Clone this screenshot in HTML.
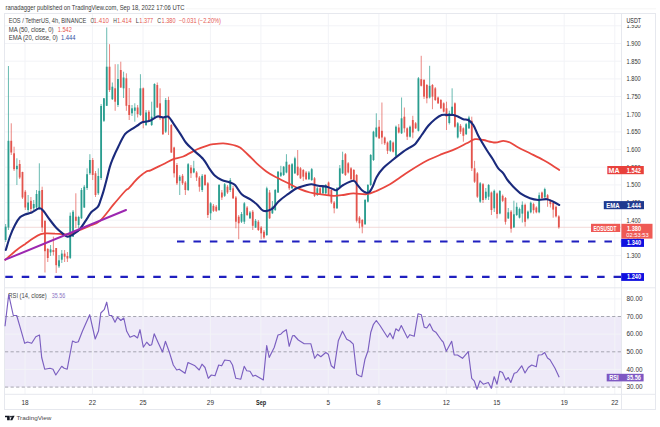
<!DOCTYPE html><html><head><meta charset="utf-8"><style>html,body{margin:0;padding:0;background:#fff;width:660px;height:427px;overflow:hidden}svg{display:block}text{font-family:"Liberation Sans",sans-serif}</style></head><body>
<svg width="660" height="427" viewBox="0 0 660 427">
<text x="5.5" y="9.8" font-size="6.6" fill="#3a3a3a" textLength="179" lengthAdjust="spacingAndGlyphs">ranadagger published on TradingView.com, Sep 18, 2022 17:06 UTC</text>
<rect x="4.5" y="13.5" width="651" height="396" fill="none" stroke="#e6e8ee" stroke-width="1"/>
<rect x="5" y="316.5" width="616" height="70.6" fill="#eeeaf8"/>
<g stroke="#f2f3f7" stroke-opacity="1" stroke-width="1"><line x1="5" y1="25.8" x2="621" y2="25.8"/><line x1="5" y1="43.5" x2="621" y2="43.5"/><line x1="5" y1="61.2" x2="621" y2="61.2"/><line x1="5" y1="78.9" x2="621" y2="78.9"/><line x1="5" y1="96.5" x2="621" y2="96.5"/><line x1="5" y1="114.2" x2="621" y2="114.2"/><line x1="5" y1="131.9" x2="621" y2="131.9"/><line x1="5" y1="149.6" x2="621" y2="149.6"/><line x1="5" y1="167.2" x2="621" y2="167.2"/><line x1="5" y1="184.9" x2="621" y2="184.9"/><line x1="5" y1="202.6" x2="621" y2="202.6"/><line x1="5" y1="220.2" x2="621" y2="220.2"/><line x1="5" y1="237.9" x2="621" y2="237.9"/><line x1="5" y1="255.6" x2="621" y2="255.6"/><line x1="5" y1="298.9" x2="621" y2="298.9"/><line x1="5" y1="334.1" x2="621" y2="334.1"/><line x1="5" y1="369.4" x2="621" y2="369.4"/><line x1="25.0" y1="14" x2="25.0" y2="394"/><line x1="92.4" y1="14" x2="92.4" y2="394"/><line x1="143.0" y1="14" x2="143.0" y2="394"/><line x1="210.4" y1="14" x2="210.4" y2="394"/><line x1="260.9" y1="14" x2="260.9" y2="394"/><line x1="328.3" y1="14" x2="328.3" y2="394"/><line x1="378.9" y1="14" x2="378.9" y2="394"/><line x1="446.3" y1="14" x2="446.3" y2="394"/><line x1="496.8" y1="14" x2="496.8" y2="394"/><line x1="564.2" y1="14" x2="564.2" y2="394"/><line x1="614.8" y1="14" x2="614.8" y2="394"/></g>
<line x1="5" y1="316.5" x2="621" y2="316.5" stroke="#9d9da8" stroke-width="0.9" stroke-dasharray="3.2,2.37"/>
<line x1="5" y1="351.8" x2="621" y2="351.8" stroke="#9d9da8" stroke-width="0.9" stroke-dasharray="3.2,2.37"/>
<line x1="5" y1="387.1" x2="621" y2="387.1" stroke="#9d9da8" stroke-width="0.9" stroke-dasharray="3.2,2.37"/>
<line x1="5" y1="287.8" x2="655" y2="287.8" stroke="#e6e8ee" stroke-width="1"/>
<line x1="5" y1="394.3" x2="655" y2="394.3" stroke="#e6e8ee" stroke-width="1"/>
<line x1="621.5" y1="14" x2="621.5" y2="409.5" stroke="#e6e8ee" stroke-width="1"/>
<text x="626.5" y="28.1" font-size="6.4" fill="#333" textLength="14.2" lengthAdjust="spacingAndGlyphs">1.950</text><text x="626.5" y="45.8" font-size="6.4" fill="#333" textLength="14.2" lengthAdjust="spacingAndGlyphs">1.900</text><text x="626.5" y="63.5" font-size="6.4" fill="#333" textLength="14.2" lengthAdjust="spacingAndGlyphs">1.850</text><text x="626.5" y="81.2" font-size="6.4" fill="#333" textLength="14.2" lengthAdjust="spacingAndGlyphs">1.800</text><text x="626.5" y="98.8" font-size="6.4" fill="#333" textLength="14.2" lengthAdjust="spacingAndGlyphs">1.750</text><text x="626.5" y="116.5" font-size="6.4" fill="#333" textLength="14.2" lengthAdjust="spacingAndGlyphs">1.700</text><text x="626.5" y="134.2" font-size="6.4" fill="#333" textLength="14.2" lengthAdjust="spacingAndGlyphs">1.650</text><text x="626.5" y="151.9" font-size="6.4" fill="#333" textLength="14.2" lengthAdjust="spacingAndGlyphs">1.600</text><text x="626.5" y="169.5" font-size="6.4" fill="#333" textLength="14.2" lengthAdjust="spacingAndGlyphs">1.550</text><text x="626.5" y="187.2" font-size="6.4" fill="#333" textLength="14.2" lengthAdjust="spacingAndGlyphs">1.500</text><text x="626.5" y="204.9" font-size="6.4" fill="#333" textLength="14.2" lengthAdjust="spacingAndGlyphs">1.450</text><text x="626.5" y="222.6" font-size="6.4" fill="#333" textLength="14.2" lengthAdjust="spacingAndGlyphs">1.400</text><text x="626.5" y="240.2" font-size="6.4" fill="#333" textLength="14.2" lengthAdjust="spacingAndGlyphs">1.350</text><text x="626.5" y="257.9" font-size="6.4" fill="#333" textLength="14.2" lengthAdjust="spacingAndGlyphs">1.300</text>
<text x="626.5" y="301.2" font-size="6.4" fill="#333" textLength="16" lengthAdjust="spacingAndGlyphs">80.00</text>
<text x="626.5" y="318.8" font-size="6.4" fill="#333" textLength="16" lengthAdjust="spacingAndGlyphs">70.00</text>
<text x="626.5" y="336.4" font-size="6.4" fill="#333" textLength="16" lengthAdjust="spacingAndGlyphs">60.00</text>
<text x="626.5" y="354.1" font-size="6.4" fill="#333" textLength="16" lengthAdjust="spacingAndGlyphs">50.00</text>
<text x="626.5" y="371.8" font-size="6.4" fill="#333" textLength="16" lengthAdjust="spacingAndGlyphs">40.00</text>
<text x="626.5" y="389.4" font-size="6.4" fill="#333" textLength="16" lengthAdjust="spacingAndGlyphs">30.00</text>
<text x="25.0" y="404.8" font-size="6.4" fill="#333" text-anchor="middle">18</text>
<text x="92.4" y="404.8" font-size="6.4" fill="#333" text-anchor="middle">22</text>
<text x="143.0" y="404.8" font-size="6.4" fill="#333" text-anchor="middle">25</text>
<text x="210.4" y="404.8" font-size="6.4" fill="#333" text-anchor="middle">29</text>
<text x="256" y="404.8" font-size="6.4" fill="#222" font-weight="bold" textLength="10.2" lengthAdjust="spacingAndGlyphs">Sep</text>
<text x="328.3" y="404.8" font-size="6.4" fill="#333" text-anchor="middle">5</text>
<text x="378.9" y="404.8" font-size="6.4" fill="#333" text-anchor="middle">8</text>
<text x="446.3" y="404.8" font-size="6.4" fill="#333" text-anchor="middle">12</text>
<text x="496.8" y="404.8" font-size="6.4" fill="#333" text-anchor="middle">15</text>
<text x="564.2" y="404.8" font-size="6.4" fill="#333" text-anchor="middle">19</text>
<text x="614.8" y="404.8" font-size="6.4" fill="#333" text-anchor="middle">22</text>
<line x1="186" y1="8.8" x2="656" y2="8.8" stroke="#f3f3f3" stroke-width="0.8"/>
<rect x="622" y="14" width="33" height="11" fill="#fff"/>
<text x="626.5" y="22.5" font-size="6.4" fill="#222" textLength="14.5" lengthAdjust="spacingAndGlyphs">USDT</text>
<text x="8.7" y="23" font-size="6.5" fill="#3c3c3c" textLength="77.7" lengthAdjust="spacingAndGlyphs">EOS / TetherUS, 4h, BINANCE</text><text x="90.4" y="23" font-size="6.5" fill="#3c3c3c" textLength="3.6" lengthAdjust="spacingAndGlyphs">O</text><text x="93.6" y="23" font-size="6.5" fill="#e5584f" textLength="15.4" lengthAdjust="spacingAndGlyphs">1.410</text><text x="113.2" y="23" font-size="6.5" fill="#3c3c3c" textLength="3.6" lengthAdjust="spacingAndGlyphs">H</text><text x="117" y="23" font-size="6.5" fill="#e5584f" textLength="14.8" lengthAdjust="spacingAndGlyphs">1.414</text><text x="135.7" y="23" font-size="6.5" fill="#3c3c3c" textLength="3.2" lengthAdjust="spacingAndGlyphs">L</text><text x="139.3" y="23" font-size="6.5" fill="#e5584f" textLength="13.9" lengthAdjust="spacingAndGlyphs">1.377</text><text x="157.3" y="23" font-size="6.5" fill="#3c3c3c" textLength="3.8" lengthAdjust="spacingAndGlyphs">C</text><text x="161.6" y="23" font-size="6.5" fill="#e5584f" textLength="13.9" lengthAdjust="spacingAndGlyphs">1.380</text><text x="179" y="23" font-size="6.5" fill="#e5584f" textLength="17.6" lengthAdjust="spacingAndGlyphs">−0.031</text><text x="198" y="23" font-size="6.5" fill="#e5584f" textLength="23" lengthAdjust="spacingAndGlyphs">(−2.20%)</text><text x="8.7" y="31.5" font-size="6.5" fill="#3c3c3c" textLength="44.9" lengthAdjust="spacingAndGlyphs">MA (50, close, 0)</text><text x="57.8" y="31.5" font-size="6.5" fill="#e5584f" textLength="14" lengthAdjust="spacingAndGlyphs">1.542</text><text x="8.7" y="40" font-size="6.5" fill="#3c3c3c" textLength="49.1" lengthAdjust="spacingAndGlyphs">EMA (20, close, 0)</text><text x="61" y="40" font-size="6.5" fill="#2f4f9f" textLength="14.5" lengthAdjust="spacingAndGlyphs">1.444</text>
<text x="8.3" y="298" font-size="6.5" fill="#444" textLength="38.5" lengthAdjust="spacingAndGlyphs">RSI (14, close)</text><text x="51.7" y="298" font-size="6.5" fill="#8c76c4" textLength="13.5" lengthAdjust="spacingAndGlyphs">35.56</text>
<line x1="5" y1="227.3" x2="621" y2="227.3" stroke="#f0d0ce" stroke-width="0.8"/>
<g stroke-width="0.7"><line x1="5.64" y1="224.0" x2="5.64" y2="242.0" stroke="#2a9d8f"/><line x1="8.45" y1="66.0" x2="8.45" y2="230.0" stroke="#2a9d8f"/><line x1="11.26" y1="123.3" x2="11.26" y2="155.0" stroke="#e3544d"/><line x1="14.07" y1="146.7" x2="14.07" y2="171.0" stroke="#e3544d"/><line x1="16.88" y1="158.3" x2="16.88" y2="185.0" stroke="#2a9d8f"/><line x1="19.68" y1="160.0" x2="19.68" y2="179.0" stroke="#e3544d"/><line x1="22.49" y1="171.7" x2="22.49" y2="199.0" stroke="#e3544d"/><line x1="25.30" y1="190.0" x2="25.30" y2="210.0" stroke="#e3544d"/><line x1="28.11" y1="195.0" x2="28.11" y2="212.0" stroke="#2a9d8f"/><line x1="30.92" y1="197.0" x2="30.92" y2="212.0" stroke="#e3544d"/><line x1="33.72" y1="200.0" x2="33.72" y2="210.0" stroke="#2a9d8f"/><line x1="36.53" y1="190.0" x2="36.53" y2="209.0" stroke="#2a9d8f"/><line x1="39.34" y1="163.3" x2="39.34" y2="210.0" stroke="#2a9d8f"/><line x1="42.15" y1="186.7" x2="42.15" y2="232.0" stroke="#e3544d"/><line x1="44.96" y1="220.0" x2="44.96" y2="272.5" stroke="#e3544d"/><line x1="47.76" y1="248.0" x2="47.76" y2="262.0" stroke="#e3544d"/><line x1="50.57" y1="245.0" x2="50.57" y2="256.0" stroke="#2a9d8f"/><line x1="53.38" y1="236.6" x2="53.38" y2="255.5" stroke="#e3544d"/><line x1="56.19" y1="248.0" x2="56.19" y2="273.0" stroke="#e3544d"/><line x1="59.00" y1="255.0" x2="59.00" y2="268.0" stroke="#2a9d8f"/><line x1="61.80" y1="250.0" x2="61.80" y2="263.0" stroke="#2a9d8f"/><line x1="64.61" y1="250.0" x2="64.61" y2="262.0" stroke="#e3544d"/><line x1="67.42" y1="252.0" x2="67.42" y2="262.0" stroke="#e3544d"/><line x1="70.23" y1="212.5" x2="70.23" y2="259.0" stroke="#2a9d8f"/><line x1="73.04" y1="210.0" x2="73.04" y2="237.0" stroke="#2a9d8f"/><line x1="75.84" y1="193.3" x2="75.84" y2="228.0" stroke="#e3544d"/><line x1="78.65" y1="215.8" x2="78.65" y2="228.3" stroke="#2a9d8f"/><line x1="81.46" y1="188.0" x2="81.46" y2="219.0" stroke="#2a9d8f"/><line x1="84.27" y1="185.0" x2="84.27" y2="208.0" stroke="#2a9d8f"/><line x1="87.08" y1="168.3" x2="87.08" y2="190.0" stroke="#2a9d8f"/><line x1="89.88" y1="154.2" x2="89.88" y2="175.0" stroke="#2a9d8f"/><line x1="92.69" y1="158.0" x2="92.69" y2="180.0" stroke="#e3544d"/><line x1="95.50" y1="171.0" x2="95.50" y2="197.0" stroke="#e3544d"/><line x1="98.31" y1="168.3" x2="98.31" y2="195.0" stroke="#2a9d8f"/><line x1="101.12" y1="104.0" x2="101.12" y2="180.0" stroke="#2a9d8f"/><line x1="103.92" y1="98.0" x2="103.92" y2="122.0" stroke="#2a9d8f"/><line x1="106.73" y1="27.5" x2="106.73" y2="106.0" stroke="#2a9d8f"/><line x1="109.54" y1="44.2" x2="109.54" y2="92.0" stroke="#e3544d"/><line x1="112.35" y1="82.5" x2="112.35" y2="100.0" stroke="#2a9d8f"/><line x1="115.16" y1="64.2" x2="115.16" y2="110.8" stroke="#e3544d"/><line x1="117.96" y1="64.2" x2="117.96" y2="107.0" stroke="#2a9d8f"/><line x1="120.77" y1="61.7" x2="120.77" y2="88.0" stroke="#e3544d"/><line x1="123.58" y1="71.7" x2="123.58" y2="98.0" stroke="#2a9d8f"/><line x1="126.39" y1="73.3" x2="126.39" y2="110.8" stroke="#e3544d"/><line x1="129.20" y1="88.0" x2="129.20" y2="120.0" stroke="#e3544d"/><line x1="132.00" y1="105.0" x2="132.00" y2="116.0" stroke="#2a9d8f"/><line x1="134.81" y1="103.3" x2="134.81" y2="121.7" stroke="#2a9d8f"/><line x1="137.62" y1="105.0" x2="137.62" y2="117.5" stroke="#e3544d"/><line x1="140.43" y1="74.2" x2="140.43" y2="116.0" stroke="#2a9d8f"/><line x1="143.24" y1="87.5" x2="143.24" y2="128.3" stroke="#e3544d"/><line x1="146.04" y1="110.0" x2="146.04" y2="126.0" stroke="#2a9d8f"/><line x1="148.85" y1="110.0" x2="148.85" y2="122.0" stroke="#e3544d"/><line x1="151.66" y1="101.7" x2="151.66" y2="126.0" stroke="#2a9d8f"/><line x1="154.47" y1="83.3" x2="154.47" y2="118.0" stroke="#2a9d8f"/><line x1="157.28" y1="82.5" x2="157.28" y2="108.0" stroke="#e3544d"/><line x1="160.08" y1="88.3" x2="160.08" y2="120.0" stroke="#e3544d"/><line x1="162.89" y1="117.0" x2="162.89" y2="135.0" stroke="#e3544d"/><line x1="165.70" y1="98.0" x2="165.70" y2="133.0" stroke="#2a9d8f"/><line x1="168.51" y1="96.7" x2="168.51" y2="135.0" stroke="#e3544d"/><line x1="171.32" y1="124.0" x2="171.32" y2="153.0" stroke="#e3544d"/><line x1="174.12" y1="146.7" x2="174.12" y2="177.5" stroke="#e3544d"/><line x1="176.93" y1="163.0" x2="176.93" y2="185.0" stroke="#e3544d"/><line x1="179.74" y1="175.0" x2="179.74" y2="195.0" stroke="#2a9d8f"/><line x1="182.55" y1="174.0" x2="182.55" y2="185.0" stroke="#e3544d"/><line x1="185.36" y1="181.0" x2="185.36" y2="195.0" stroke="#e3544d"/><line x1="188.16" y1="163.0" x2="188.16" y2="191.0" stroke="#2a9d8f"/><line x1="190.97" y1="165.0" x2="190.97" y2="178.0" stroke="#e3544d"/><line x1="193.78" y1="160.8" x2="193.78" y2="173.3" stroke="#2a9d8f"/><line x1="196.59" y1="171.0" x2="196.59" y2="181.0" stroke="#e3544d"/><line x1="199.40" y1="176.0" x2="199.40" y2="191.7" stroke="#e3544d"/><line x1="202.20" y1="174.0" x2="202.20" y2="192.0" stroke="#2a9d8f"/><line x1="205.01" y1="174.0" x2="205.01" y2="186.0" stroke="#e3544d"/><line x1="207.82" y1="182.0" x2="207.82" y2="218.0" stroke="#e3544d"/><line x1="210.63" y1="202.0" x2="210.63" y2="220.0" stroke="#2a9d8f"/><line x1="213.44" y1="204.0" x2="213.44" y2="212.0" stroke="#e3544d"/><line x1="216.24" y1="205.0" x2="216.24" y2="212.0" stroke="#e3544d"/><line x1="219.05" y1="184.0" x2="219.05" y2="211.0" stroke="#2a9d8f"/><line x1="221.86" y1="190.0" x2="221.86" y2="200.0" stroke="#e3544d"/><line x1="224.67" y1="183.0" x2="224.67" y2="197.0" stroke="#2a9d8f"/><line x1="227.48" y1="185.0" x2="227.48" y2="194.0" stroke="#e3544d"/><line x1="230.28" y1="178.0" x2="230.28" y2="192.0" stroke="#2a9d8f"/><line x1="233.09" y1="186.0" x2="233.09" y2="199.0" stroke="#e3544d"/><line x1="235.90" y1="196.0" x2="235.90" y2="228.3" stroke="#e3544d"/><line x1="238.71" y1="215.0" x2="238.71" y2="239.2" stroke="#e3544d"/><line x1="241.52" y1="212.0" x2="241.52" y2="223.0" stroke="#2a9d8f"/><line x1="244.32" y1="202.0" x2="244.32" y2="224.0" stroke="#2a9d8f"/><line x1="247.13" y1="206.0" x2="247.13" y2="216.0" stroke="#e3544d"/><line x1="249.94" y1="211.0" x2="249.94" y2="219.0" stroke="#2a9d8f"/><line x1="252.75" y1="210.0" x2="252.75" y2="230.0" stroke="#e3544d"/><line x1="255.56" y1="219.0" x2="255.56" y2="228.0" stroke="#2a9d8f"/><line x1="258.36" y1="220.0" x2="258.36" y2="231.0" stroke="#e3544d"/><line x1="261.17" y1="226.0" x2="261.17" y2="239.2" stroke="#e3544d"/><line x1="263.98" y1="230.0" x2="263.98" y2="239.0" stroke="#e3544d"/><line x1="266.79" y1="186.7" x2="266.79" y2="236.0" stroke="#2a9d8f"/><line x1="269.60" y1="190.0" x2="269.60" y2="219.0" stroke="#e3544d"/><line x1="272.40" y1="201.0" x2="272.40" y2="214.0" stroke="#2a9d8f"/><line x1="275.21" y1="189.0" x2="275.21" y2="211.0" stroke="#2a9d8f"/><line x1="278.02" y1="171.0" x2="278.02" y2="193.0" stroke="#2a9d8f"/><line x1="280.83" y1="165.8" x2="280.83" y2="177.0" stroke="#2a9d8f"/><line x1="283.64" y1="166.0" x2="283.64" y2="176.0" stroke="#2a9d8f"/><line x1="286.44" y1="154.2" x2="286.44" y2="173.3" stroke="#2a9d8f"/><line x1="289.25" y1="164.0" x2="289.25" y2="190.0" stroke="#e3544d"/><line x1="292.06" y1="163.0" x2="292.06" y2="189.0" stroke="#2a9d8f"/><line x1="294.87" y1="156.7" x2="294.87" y2="174.0" stroke="#2a9d8f"/><line x1="297.68" y1="150.0" x2="297.68" y2="176.0" stroke="#e3544d"/><line x1="300.48" y1="167.0" x2="300.48" y2="179.0" stroke="#e3544d"/><line x1="303.29" y1="169.0" x2="303.29" y2="181.0" stroke="#e3544d"/><line x1="306.10" y1="171.0" x2="306.10" y2="180.0" stroke="#e3544d"/><line x1="308.91" y1="171.0" x2="308.91" y2="180.0" stroke="#2a9d8f"/><line x1="311.72" y1="168.0" x2="311.72" y2="181.0" stroke="#2a9d8f"/><line x1="314.52" y1="177.0" x2="314.52" y2="197.0" stroke="#e3544d"/><line x1="317.33" y1="187.0" x2="317.33" y2="196.0" stroke="#2a9d8f"/><line x1="320.14" y1="187.0" x2="320.14" y2="195.0" stroke="#e3544d"/><line x1="322.95" y1="185.5" x2="322.95" y2="194.0" stroke="#2a9d8f"/><line x1="325.76" y1="184.0" x2="325.76" y2="194.0" stroke="#2a9d8f"/><line x1="328.56" y1="181.5" x2="328.56" y2="196.0" stroke="#e3544d"/><line x1="331.37" y1="189.0" x2="331.37" y2="204.0" stroke="#e3544d"/><line x1="334.18" y1="201.0" x2="334.18" y2="213.3" stroke="#e3544d"/><line x1="336.99" y1="187.0" x2="336.99" y2="209.0" stroke="#2a9d8f"/><line x1="339.80" y1="165.0" x2="339.80" y2="187.5" stroke="#2a9d8f"/><line x1="342.60" y1="151.7" x2="342.60" y2="174.0" stroke="#2a9d8f"/><line x1="345.41" y1="153.0" x2="345.41" y2="176.0" stroke="#e3544d"/><line x1="348.22" y1="162.0" x2="348.22" y2="173.5" stroke="#e3544d"/><line x1="351.03" y1="167.0" x2="351.03" y2="180.0" stroke="#e3544d"/><line x1="353.84" y1="169.0" x2="353.84" y2="181.0" stroke="#e3544d"/><line x1="356.64" y1="174.0" x2="356.64" y2="222.5" stroke="#e3544d"/><line x1="359.45" y1="216.0" x2="359.45" y2="228.3" stroke="#e3544d"/><line x1="362.26" y1="219.0" x2="362.26" y2="233.3" stroke="#e3544d"/><line x1="365.07" y1="199.0" x2="365.07" y2="225.0" stroke="#2a9d8f"/><line x1="367.88" y1="184.0" x2="367.88" y2="202.5" stroke="#2a9d8f"/><line x1="370.68" y1="154.0" x2="370.68" y2="186.0" stroke="#2a9d8f"/><line x1="373.49" y1="130.8" x2="373.49" y2="161.0" stroke="#2a9d8f"/><line x1="376.30" y1="113.3" x2="376.30" y2="137.5" stroke="#2a9d8f"/><line x1="379.11" y1="120.0" x2="379.11" y2="139.0" stroke="#e3544d"/><line x1="381.92" y1="102.5" x2="381.92" y2="144.2" stroke="#e3544d"/><line x1="384.72" y1="136.5" x2="384.72" y2="145.0" stroke="#e3544d"/><line x1="387.53" y1="141.5" x2="387.53" y2="154.0" stroke="#e3544d"/><line x1="390.34" y1="140.0" x2="390.34" y2="152.0" stroke="#2a9d8f"/><line x1="393.15" y1="141.5" x2="393.15" y2="152.5" stroke="#e3544d"/><line x1="395.96" y1="125.5" x2="395.96" y2="157.0" stroke="#2a9d8f"/><line x1="398.76" y1="124.0" x2="398.76" y2="133.5" stroke="#e3544d"/><line x1="401.57" y1="97.5" x2="401.57" y2="134.0" stroke="#2a9d8f"/><line x1="404.38" y1="107.5" x2="404.38" y2="132.5" stroke="#e3544d"/><line x1="407.19" y1="127.3" x2="407.19" y2="140.0" stroke="#e3544d"/><line x1="410.00" y1="125.5" x2="410.00" y2="137.5" stroke="#2a9d8f"/><line x1="412.80" y1="115.8" x2="412.80" y2="138.3" stroke="#e3544d"/><line x1="415.61" y1="122.0" x2="415.61" y2="129.0" stroke="#e3544d"/><line x1="418.42" y1="77.0" x2="418.42" y2="131.5" stroke="#2a9d8f"/><line x1="421.23" y1="55.8" x2="421.23" y2="86.5" stroke="#e3544d"/><line x1="424.04" y1="79.0" x2="424.04" y2="99.0" stroke="#e3544d"/><line x1="426.84" y1="84.0" x2="426.84" y2="103.3" stroke="#e3544d"/><line x1="429.65" y1="65.8" x2="429.65" y2="98.5" stroke="#2a9d8f"/><line x1="432.46" y1="84.0" x2="432.46" y2="109.2" stroke="#e3544d"/><line x1="435.27" y1="87.0" x2="435.27" y2="101.0" stroke="#e3544d"/><line x1="438.08" y1="96.5" x2="438.08" y2="104.0" stroke="#e3544d"/><line x1="440.88" y1="99.0" x2="440.88" y2="109.0" stroke="#e3544d"/><line x1="443.69" y1="102.3" x2="443.69" y2="112.5" stroke="#e3544d"/><line x1="446.50" y1="101.7" x2="446.50" y2="130.0" stroke="#e3544d"/><line x1="449.31" y1="110.7" x2="449.31" y2="124.5" stroke="#2a9d8f"/><line x1="452.12" y1="88.3" x2="452.12" y2="116.0" stroke="#2a9d8f"/><line x1="454.92" y1="102.3" x2="454.92" y2="127.7" stroke="#e3544d"/><line x1="457.73" y1="122.0" x2="457.73" y2="138.5" stroke="#2a9d8f"/><line x1="460.54" y1="124.0" x2="460.54" y2="134.0" stroke="#e3544d"/><line x1="463.35" y1="127.3" x2="463.35" y2="141.7" stroke="#e3544d"/><line x1="466.16" y1="123.0" x2="466.16" y2="135.0" stroke="#2a9d8f"/><line x1="468.96" y1="115.8" x2="468.96" y2="129.0" stroke="#2a9d8f"/><line x1="471.77" y1="116.7" x2="471.77" y2="171.0" stroke="#e3544d"/><line x1="474.58" y1="160.8" x2="474.58" y2="183.0" stroke="#e3544d"/><line x1="477.39" y1="172.0" x2="477.39" y2="198.0" stroke="#e3544d"/><line x1="480.20" y1="182.0" x2="480.20" y2="203.0" stroke="#2a9d8f"/><line x1="483.00" y1="183.0" x2="483.00" y2="203.0" stroke="#e3544d"/><line x1="485.81" y1="188.0" x2="485.81" y2="200.0" stroke="#2a9d8f"/><line x1="488.62" y1="184.0" x2="488.62" y2="200.0" stroke="#2a9d8f"/><line x1="491.43" y1="191.5" x2="491.43" y2="215.0" stroke="#e3544d"/><line x1="494.24" y1="189.5" x2="494.24" y2="212.0" stroke="#2a9d8f"/><line x1="497.04" y1="192.5" x2="497.04" y2="218.4" stroke="#e3544d"/><line x1="499.85" y1="190.0" x2="499.85" y2="214.3" stroke="#2a9d8f"/><line x1="502.66" y1="194.5" x2="502.66" y2="202.0" stroke="#e3544d"/><line x1="505.47" y1="197.0" x2="505.47" y2="224.6" stroke="#e3544d"/><line x1="508.28" y1="208.0" x2="508.28" y2="219.0" stroke="#2a9d8f"/><line x1="511.08" y1="210.0" x2="511.08" y2="232.7" stroke="#e3544d"/><line x1="513.89" y1="200.7" x2="513.89" y2="228.0" stroke="#2a9d8f"/><line x1="516.70" y1="202.7" x2="516.70" y2="216.0" stroke="#2a9d8f"/><line x1="519.51" y1="207.5" x2="519.51" y2="218.5" stroke="#2a9d8f"/><line x1="522.32" y1="201.4" x2="522.32" y2="222.5" stroke="#2a9d8f"/><line x1="525.12" y1="203.5" x2="525.12" y2="226.6" stroke="#e3544d"/><line x1="527.93" y1="210.5" x2="527.93" y2="219.5" stroke="#2a9d8f"/><line x1="530.74" y1="201.5" x2="530.74" y2="213.3" stroke="#2a9d8f"/><line x1="533.55" y1="202.7" x2="533.55" y2="213.6" stroke="#e3544d"/><line x1="536.36" y1="206.3" x2="536.36" y2="213.3" stroke="#e3544d"/><line x1="539.16" y1="192.5" x2="539.16" y2="213.3" stroke="#2a9d8f"/><line x1="541.97" y1="191.5" x2="541.97" y2="199.0" stroke="#e3544d"/><line x1="544.78" y1="187.7" x2="544.78" y2="198.3" stroke="#2a9d8f"/><line x1="547.59" y1="194.0" x2="547.59" y2="206.8" stroke="#e3544d"/><line x1="550.40" y1="199.5" x2="550.40" y2="207.5" stroke="#e3544d"/><line x1="553.20" y1="201.5" x2="553.20" y2="217.7" stroke="#e3544d"/><line x1="556.01" y1="205.5" x2="556.01" y2="217.5" stroke="#e3544d"/><line x1="558.82" y1="215.2" x2="558.82" y2="228.7" stroke="#e3544d"/></g>
<g><rect x="4.74" y="226.7" width="1.8" height="13.3" fill="#2a9d8f"/><rect x="7.55" y="140.8" width="1.8" height="86.7" fill="#2a9d8f"/><rect x="10.36" y="140.8" width="1.8" height="11.7" fill="#e3544d"/><rect x="13.17" y="153.3" width="1.8" height="15.9" fill="#e3544d"/><rect x="15.98" y="165.8" width="1.8" height="3.4" fill="#2a9d8f"/><rect x="18.78" y="164.0" width="1.8" height="13.5" fill="#e3544d"/><rect x="21.59" y="172.0" width="1.8" height="25.5" fill="#e3544d"/><rect x="24.40" y="191.7" width="1.8" height="15.8" fill="#e3544d"/><rect x="27.21" y="202.5" width="1.8" height="7.5" fill="#2a9d8f"/><rect x="30.02" y="200.8" width="1.8" height="8.2" fill="#e3544d"/><rect x="32.82" y="204.0" width="1.8" height="4.3" fill="#2a9d8f"/><rect x="35.63" y="194.0" width="1.8" height="13.5" fill="#2a9d8f"/><rect x="38.44" y="190.8" width="1.8" height="17.2" fill="#2a9d8f"/><rect x="41.25" y="190.0" width="1.8" height="37.5" fill="#e3544d"/><rect x="44.06" y="221.0" width="1.8" height="30.2" fill="#e3544d"/><rect x="46.86" y="249.0" width="1.8" height="9.0" fill="#e3544d"/><rect x="49.67" y="249.4" width="1.8" height="3.0" fill="#2a9d8f"/><rect x="52.48" y="250.0" width="1.8" height="2.0" fill="#e3544d"/><rect x="55.29" y="248.0" width="1.8" height="17.2" fill="#e3544d"/><rect x="58.10" y="260.3" width="1.8" height="6.1" fill="#2a9d8f"/><rect x="60.90" y="253.6" width="1.8" height="6.1" fill="#2a9d8f"/><rect x="63.71" y="253.6" width="1.8" height="3.1" fill="#e3544d"/><rect x="66.52" y="256.0" width="1.8" height="2.5" fill="#e3544d"/><rect x="69.33" y="215.8" width="1.8" height="42.1" fill="#2a9d8f"/><rect x="72.14" y="211.7" width="1.8" height="25.0" fill="#2a9d8f"/><rect x="74.94" y="216.7" width="1.8" height="4.1" fill="#e3544d"/><rect x="77.75" y="217.0" width="1.8" height="8.0" fill="#2a9d8f"/><rect x="80.56" y="190.0" width="1.8" height="28.3" fill="#2a9d8f"/><rect x="83.37" y="186.7" width="1.8" height="20.8" fill="#2a9d8f"/><rect x="86.18" y="174.2" width="1.8" height="13.8" fill="#2a9d8f"/><rect x="88.98" y="160.0" width="1.8" height="13.3" fill="#2a9d8f"/><rect x="91.79" y="160.0" width="1.8" height="15.0" fill="#e3544d"/><rect x="94.60" y="173.3" width="1.8" height="21.7" fill="#e3544d"/><rect x="97.41" y="176.0" width="1.8" height="17.3" fill="#2a9d8f"/><rect x="100.22" y="106.0" width="1.8" height="72.0" fill="#2a9d8f"/><rect x="103.02" y="98.3" width="1.8" height="22.5" fill="#2a9d8f"/><rect x="105.83" y="66.7" width="1.8" height="39.1" fill="#2a9d8f"/><rect x="108.64" y="66.7" width="1.8" height="23.3" fill="#e3544d"/><rect x="111.45" y="86.7" width="1.8" height="12.5" fill="#2a9d8f"/><rect x="114.26" y="88.3" width="1.8" height="13.4" fill="#e3544d"/><rect x="117.06" y="79.0" width="1.8" height="26.0" fill="#2a9d8f"/><rect x="119.87" y="70.0" width="1.8" height="17.5" fill="#e3544d"/><rect x="122.68" y="77.5" width="1.8" height="10.8" fill="#2a9d8f"/><rect x="125.49" y="78.3" width="1.8" height="27.5" fill="#e3544d"/><rect x="128.30" y="105.0" width="1.8" height="10.0" fill="#e3544d"/><rect x="131.10" y="108.3" width="1.8" height="5.0" fill="#2a9d8f"/><rect x="133.91" y="107.5" width="1.8" height="3.3" fill="#2a9d8f"/><rect x="136.72" y="107.5" width="1.8" height="6.7" fill="#e3544d"/><rect x="139.53" y="88.3" width="1.8" height="26.7" fill="#2a9d8f"/><rect x="142.34" y="88.3" width="1.8" height="34.2" fill="#e3544d"/><rect x="145.14" y="112.5" width="1.8" height="12.5" fill="#2a9d8f"/><rect x="147.95" y="111.7" width="1.8" height="9.1" fill="#e3544d"/><rect x="150.76" y="116.7" width="1.8" height="8.3" fill="#2a9d8f"/><rect x="153.57" y="84.0" width="1.8" height="32.7" fill="#2a9d8f"/><rect x="156.38" y="85.0" width="1.8" height="22.5" fill="#e3544d"/><rect x="159.18" y="103.3" width="1.8" height="15.0" fill="#e3544d"/><rect x="161.99" y="118.3" width="1.8" height="15.9" fill="#e3544d"/><rect x="164.80" y="100.0" width="1.8" height="31.7" fill="#2a9d8f"/><rect x="167.61" y="100.0" width="1.8" height="18.3" fill="#e3544d"/><rect x="170.42" y="125.0" width="1.8" height="27.5" fill="#e3544d"/><rect x="173.22" y="147.5" width="1.8" height="25.8" fill="#e3544d"/><rect x="176.03" y="165.0" width="1.8" height="18.3" fill="#e3544d"/><rect x="178.84" y="176.7" width="1.8" height="4.1" fill="#2a9d8f"/><rect x="181.65" y="175.8" width="1.8" height="7.5" fill="#e3544d"/><rect x="184.46" y="182.5" width="1.8" height="7.5" fill="#e3544d"/><rect x="187.26" y="164.2" width="1.8" height="25.8" fill="#2a9d8f"/><rect x="190.07" y="167.5" width="1.8" height="5.8" fill="#e3544d"/><rect x="192.88" y="168.3" width="1.8" height="4.2" fill="#2a9d8f"/><rect x="195.69" y="172.5" width="1.8" height="5.0" fill="#e3544d"/><rect x="198.50" y="177.5" width="1.8" height="9.2" fill="#e3544d"/><rect x="201.30" y="175.8" width="1.8" height="14.2" fill="#2a9d8f"/><rect x="204.11" y="175.0" width="1.8" height="10.0" fill="#e3544d"/><rect x="206.92" y="183.3" width="1.8" height="31.7" fill="#e3544d"/><rect x="209.73" y="203.3" width="1.8" height="10.0" fill="#2a9d8f"/><rect x="212.54" y="205.8" width="1.8" height="5.0" fill="#e3544d"/><rect x="215.34" y="206.7" width="1.8" height="4.1" fill="#e3544d"/><rect x="218.15" y="185.0" width="1.8" height="25.0" fill="#2a9d8f"/><rect x="220.96" y="192.5" width="1.8" height="5.0" fill="#e3544d"/><rect x="223.77" y="184.2" width="1.8" height="11.6" fill="#2a9d8f"/><rect x="226.58" y="186.7" width="1.8" height="5.8" fill="#e3544d"/><rect x="229.38" y="180.0" width="1.8" height="10.0" fill="#2a9d8f"/><rect x="232.19" y="188.3" width="1.8" height="10.0" fill="#e3544d"/><rect x="235.00" y="197.5" width="1.8" height="24.2" fill="#e3544d"/><rect x="237.81" y="216.7" width="1.8" height="6.6" fill="#e3544d"/><rect x="240.62" y="214.0" width="1.8" height="7.7" fill="#2a9d8f"/><rect x="243.42" y="203.3" width="1.8" height="18.4" fill="#2a9d8f"/><rect x="246.23" y="207.5" width="1.8" height="7.5" fill="#e3544d"/><rect x="249.04" y="212.5" width="1.8" height="5.8" fill="#2a9d8f"/><rect x="251.85" y="211.7" width="1.8" height="14.1" fill="#e3544d"/><rect x="254.66" y="220.8" width="1.8" height="6.7" fill="#2a9d8f"/><rect x="257.46" y="221.7" width="1.8" height="8.3" fill="#e3544d"/><rect x="260.27" y="227.5" width="1.8" height="5.8" fill="#e3544d"/><rect x="263.08" y="231.7" width="1.8" height="5.8" fill="#e3544d"/><rect x="265.89" y="188.3" width="1.8" height="46.7" fill="#2a9d8f"/><rect x="268.70" y="192.5" width="1.8" height="25.8" fill="#e3544d"/><rect x="271.50" y="206.7" width="1.8" height="6.6" fill="#2a9d8f"/><rect x="274.31" y="190.0" width="1.8" height="20.0" fill="#2a9d8f"/><rect x="277.12" y="171.7" width="1.8" height="20.8" fill="#2a9d8f"/><rect x="279.93" y="172.5" width="1.8" height="3.3" fill="#2a9d8f"/><rect x="282.74" y="166.7" width="1.8" height="8.3" fill="#2a9d8f"/><rect x="285.54" y="161.7" width="1.8" height="10.8" fill="#2a9d8f"/><rect x="288.35" y="165.0" width="1.8" height="23.3" fill="#e3544d"/><rect x="291.16" y="164.2" width="1.8" height="24.1" fill="#2a9d8f"/><rect x="293.97" y="158.3" width="1.8" height="15.0" fill="#2a9d8f"/><rect x="296.78" y="166.7" width="1.8" height="8.3" fill="#e3544d"/><rect x="299.58" y="168.3" width="1.8" height="10.0" fill="#e3544d"/><rect x="302.39" y="170.0" width="1.8" height="6.7" fill="#e3544d"/><rect x="305.20" y="172.5" width="1.8" height="6.7" fill="#e3544d"/><rect x="308.01" y="172.5" width="1.8" height="6.7" fill="#2a9d8f"/><rect x="310.82" y="169.2" width="1.8" height="10.8" fill="#2a9d8f"/><rect x="313.62" y="178.3" width="1.8" height="17.5" fill="#e3544d"/><rect x="316.43" y="188.3" width="1.8" height="6.7" fill="#2a9d8f"/><rect x="319.24" y="188.3" width="1.8" height="5.9" fill="#e3544d"/><rect x="322.05" y="186.7" width="1.8" height="6.6" fill="#2a9d8f"/><rect x="324.86" y="185.0" width="1.8" height="8.3" fill="#2a9d8f"/><rect x="327.66" y="182.5" width="1.8" height="12.5" fill="#e3544d"/><rect x="330.47" y="190.0" width="1.8" height="12.5" fill="#e3544d"/><rect x="333.28" y="202.5" width="1.8" height="5.8" fill="#e3544d"/><rect x="336.09" y="188.3" width="1.8" height="20.0" fill="#2a9d8f"/><rect x="338.90" y="168.3" width="1.8" height="18.4" fill="#2a9d8f"/><rect x="341.70" y="160.0" width="1.8" height="13.3" fill="#2a9d8f"/><rect x="344.51" y="154.2" width="1.8" height="20.8" fill="#e3544d"/><rect x="347.32" y="163.3" width="1.8" height="9.2" fill="#e3544d"/><rect x="350.13" y="168.3" width="1.8" height="10.9" fill="#e3544d"/><rect x="352.94" y="170.0" width="1.8" height="10.0" fill="#e3544d"/><rect x="355.74" y="175.0" width="1.8" height="45.8" fill="#e3544d"/><rect x="358.55" y="217.5" width="1.8" height="5.8" fill="#e3544d"/><rect x="361.36" y="220.0" width="1.8" height="6.7" fill="#e3544d"/><rect x="364.17" y="200.0" width="1.8" height="24.2" fill="#2a9d8f"/><rect x="366.98" y="185.0" width="1.8" height="16.7" fill="#2a9d8f"/><rect x="369.78" y="155.0" width="1.8" height="30.0" fill="#2a9d8f"/><rect x="372.59" y="131.7" width="1.8" height="28.3" fill="#2a9d8f"/><rect x="375.40" y="127.5" width="1.8" height="9.2" fill="#2a9d8f"/><rect x="378.21" y="126.7" width="1.8" height="11.6" fill="#e3544d"/><rect x="381.02" y="130.8" width="1.8" height="6.7" fill="#e3544d"/><rect x="383.82" y="137.5" width="1.8" height="5.8" fill="#e3544d"/><rect x="386.63" y="142.5" width="1.8" height="8.3" fill="#e3544d"/><rect x="389.44" y="140.8" width="1.8" height="10.0" fill="#2a9d8f"/><rect x="392.25" y="142.5" width="1.8" height="9.2" fill="#e3544d"/><rect x="395.06" y="126.7" width="1.8" height="29.1" fill="#2a9d8f"/><rect x="397.86" y="127.5" width="1.8" height="5.0" fill="#e3544d"/><rect x="400.67" y="118.3" width="1.8" height="15.0" fill="#2a9d8f"/><rect x="403.48" y="116.7" width="1.8" height="11.6" fill="#e3544d"/><rect x="406.29" y="128.3" width="1.8" height="8.4" fill="#e3544d"/><rect x="409.10" y="126.7" width="1.8" height="10.0" fill="#2a9d8f"/><rect x="411.90" y="120.0" width="1.8" height="12.5" fill="#e3544d"/><rect x="414.71" y="123.3" width="1.8" height="5.0" fill="#e3544d"/><rect x="417.52" y="78.3" width="1.8" height="52.5" fill="#2a9d8f"/><rect x="420.33" y="79.2" width="1.8" height="6.6" fill="#e3544d"/><rect x="423.14" y="80.0" width="1.8" height="16.7" fill="#e3544d"/><rect x="425.94" y="85.0" width="1.8" height="13.3" fill="#e3544d"/><rect x="428.75" y="85.8" width="1.8" height="11.7" fill="#2a9d8f"/><rect x="431.56" y="85.0" width="1.8" height="11.7" fill="#e3544d"/><rect x="434.37" y="88.3" width="1.8" height="11.7" fill="#e3544d"/><rect x="437.18" y="97.5" width="1.8" height="5.8" fill="#e3544d"/><rect x="439.98" y="100.0" width="1.8" height="8.3" fill="#e3544d"/><rect x="442.79" y="103.3" width="1.8" height="8.4" fill="#e3544d"/><rect x="445.60" y="108.3" width="1.8" height="8.4" fill="#e3544d"/><rect x="448.41" y="113.0" width="1.8" height="10.0" fill="#2a9d8f"/><rect x="451.22" y="106.7" width="1.8" height="8.3" fill="#2a9d8f"/><rect x="454.02" y="103.3" width="1.8" height="23.4" fill="#e3544d"/><rect x="456.83" y="123.3" width="1.8" height="14.2" fill="#2a9d8f"/><rect x="459.64" y="125.8" width="1.8" height="5.9" fill="#e3544d"/><rect x="462.45" y="128.3" width="1.8" height="7.5" fill="#e3544d"/><rect x="465.26" y="124.2" width="1.8" height="10.0" fill="#2a9d8f"/><rect x="468.06" y="117.5" width="1.8" height="10.8" fill="#2a9d8f"/><rect x="470.87" y="120.8" width="1.8" height="47.5" fill="#e3544d"/><rect x="473.68" y="168.3" width="1.8" height="13.4" fill="#e3544d"/><rect x="476.49" y="173.3" width="1.8" height="23.4" fill="#e3544d"/><rect x="479.30" y="183.3" width="1.8" height="18.4" fill="#2a9d8f"/><rect x="482.10" y="184.2" width="1.8" height="15.8" fill="#e3544d"/><rect x="484.91" y="191.7" width="1.8" height="6.6" fill="#2a9d8f"/><rect x="487.72" y="185.0" width="1.8" height="11.7" fill="#2a9d8f"/><rect x="490.53" y="192.5" width="1.8" height="17.5" fill="#e3544d"/><rect x="493.34" y="190.8" width="1.8" height="17.5" fill="#2a9d8f"/><rect x="496.14" y="193.5" width="1.8" height="20.5" fill="#e3544d"/><rect x="498.95" y="191.0" width="1.8" height="22.5" fill="#2a9d8f"/><rect x="501.76" y="195.8" width="1.8" height="5.0" fill="#e3544d"/><rect x="504.57" y="198.0" width="1.8" height="23.8" fill="#e3544d"/><rect x="507.38" y="212.3" width="1.8" height="6.1" fill="#2a9d8f"/><rect x="510.18" y="211.6" width="1.8" height="17.1" fill="#e3544d"/><rect x="512.99" y="214.3" width="1.8" height="13.0" fill="#2a9d8f"/><rect x="515.80" y="206.8" width="1.8" height="8.2" fill="#2a9d8f"/><rect x="518.61" y="208.9" width="1.8" height="8.8" fill="#2a9d8f"/><rect x="521.42" y="204.8" width="1.8" height="8.8" fill="#2a9d8f"/><rect x="524.22" y="204.8" width="1.8" height="17.0" fill="#e3544d"/><rect x="527.03" y="211.6" width="1.8" height="6.8" fill="#2a9d8f"/><rect x="529.84" y="202.7" width="1.8" height="9.6" fill="#2a9d8f"/><rect x="532.65" y="204.1" width="1.8" height="6.1" fill="#e3544d"/><rect x="535.46" y="207.5" width="1.8" height="4.8" fill="#e3544d"/><rect x="538.26" y="195.2" width="1.8" height="17.1" fill="#2a9d8f"/><rect x="541.07" y="192.5" width="1.8" height="5.5" fill="#e3544d"/><rect x="543.88" y="189.1" width="1.8" height="8.2" fill="#2a9d8f"/><rect x="546.69" y="195.2" width="1.8" height="4.8" fill="#e3544d"/><rect x="549.50" y="200.7" width="1.8" height="3.4" fill="#e3544d"/><rect x="552.30" y="202.7" width="1.8" height="6.9" fill="#e3544d"/><rect x="555.11" y="206.8" width="1.8" height="9.6" fill="#e3544d"/><rect x="557.92" y="216.4" width="1.8" height="10.9" fill="#e3544d"/></g>
<path d="M5.3,259.7 C7.2,258.1 13.4,252.6 16.7,250.0 C20.0,247.4 22.2,246.1 25.0,244.2 C27.8,242.2 30.7,240.0 33.3,238.3 C35.9,236.6 38.6,235.0 40.8,234.2 C43.0,233.4 44.3,233.4 46.7,233.3 C49.1,233.2 52.2,233.5 55.0,233.7 C57.8,233.8 60.8,234.1 63.3,234.2 C65.8,234.3 67.2,234.9 70.0,234.2 C72.8,233.5 76.7,231.4 80.0,230.0 C83.3,228.6 86.7,227.3 90.0,225.8 C93.3,224.3 96.1,224.3 100.0,220.8 C103.9,217.3 109.2,209.7 113.4,204.7 C117.6,199.7 122.7,193.7 125.2,191.0 C127.8,188.3 127.1,189.9 128.7,188.3 C130.3,186.7 133.0,183.4 134.8,181.4 C136.6,179.4 137.8,178.1 139.7,176.5 C141.6,174.9 144.2,172.7 146.0,171.7 C147.8,170.7 148.5,171.2 150.6,170.3 C152.7,169.4 156.2,167.7 158.8,166.4 C161.4,165.2 163.7,164.0 166.1,162.8 C168.5,161.6 170.5,160.2 173.4,159.1 C176.3,158.0 179.4,158.1 183.3,156.5 C187.2,154.9 192.8,151.3 196.7,149.5 C200.6,147.7 203.9,146.7 206.7,145.8 C209.5,144.9 210.5,144.6 213.3,144.2 C216.1,143.8 220.0,143.2 223.3,143.3 C226.6,143.4 230.5,144.3 233.3,145.0 C236.1,145.7 237.5,145.8 240.0,147.5 C242.5,149.2 245.5,152.4 248.3,155.0 C251.1,157.6 253.6,160.5 256.7,163.3 C259.8,166.1 263.4,169.3 266.7,171.7 C270.0,174.1 273.1,175.6 276.7,177.5 C280.3,179.4 284.4,181.4 288.3,183.3 C292.2,185.2 296.4,187.7 300.0,189.2 C303.6,190.7 306.7,191.7 310.0,192.5 C313.3,193.3 316.1,193.6 320.0,194.2 C323.9,194.8 329.4,195.7 333.3,195.8 C337.2,195.9 340.0,195.4 343.3,195.0 C346.6,194.6 349.4,193.4 353.3,193.3 C357.2,193.2 362.8,194.6 366.7,194.2 C370.6,193.8 372.8,192.5 376.7,190.8 C380.6,189.1 386.1,186.4 390.0,184.2 C393.9,182.0 396.7,179.7 400.0,177.5 C403.3,175.3 405.6,173.6 410.0,170.8 C414.4,168.0 421.4,163.6 426.7,160.8 C432.0,158.0 437.0,156.1 441.7,154.2 C446.4,152.3 450.8,151.0 455.0,149.2 C459.2,147.4 463.4,145.0 466.7,143.3 C470.0,141.6 472.2,139.8 475.0,139.2 C477.8,138.6 480.0,139.4 483.3,140.0 C486.6,140.6 491.7,142.4 495.0,142.5 C498.3,142.6 500.8,140.8 503.3,140.8 C505.8,140.8 507.5,141.4 510.0,142.5 C512.5,143.6 515.0,145.7 518.3,147.5 C521.6,149.3 525.8,151.2 530.0,153.3 C534.2,155.4 539.7,158.1 543.3,160.0 C546.9,161.9 549.1,163.3 551.7,165.0 C554.4,166.7 558.0,169.2 559.2,170.0" fill="none" stroke="#e8473f" stroke-width="1.8" stroke-linejoin="round" stroke-linecap="round"/>
<path d="M5.8,250.0 C6.5,247.8 8.5,240.7 10.0,236.5 C11.5,232.3 13.3,228.2 15.0,225.0 C16.7,221.8 18.3,219.1 20.0,217.3 C21.7,215.6 23.1,215.3 25.0,214.5 C26.9,213.7 29.3,213.5 31.7,212.5 C34.1,211.5 37.3,208.6 39.2,208.3 C41.1,208.0 41.5,208.9 43.3,210.8 C45.1,212.8 47.8,217.1 50.0,220.0 C52.2,222.9 54.6,226.1 56.7,228.3 C58.8,230.5 60.7,231.9 62.5,233.3 C64.3,234.7 65.7,236.5 67.5,236.7 C69.3,236.8 71.2,235.5 73.3,234.2 C75.4,232.9 77.7,231.6 80.0,229.0 C82.3,226.4 85.0,221.6 86.9,218.8 C88.8,216.0 89.6,214.0 91.4,212.0 C93.2,210.0 96.3,208.9 97.8,206.9 C99.3,204.9 99.7,202.6 100.6,200.1 C101.5,197.6 102.3,195.2 103.3,191.9 C104.3,188.6 105.4,184.2 106.5,180.0 C107.6,175.8 108.7,170.8 109.8,167.0 C110.9,163.2 111.9,160.9 113.3,157.5 C114.7,154.1 116.3,150.6 118.3,146.7 C120.2,142.8 122.8,137.1 125.0,134.2 C127.2,131.3 129.5,130.7 131.7,129.2 C133.9,127.7 136.6,126.1 138.3,125.0 C140.0,123.9 139.8,123.2 141.7,122.5 C143.6,121.8 147.5,121.8 150.0,120.8 C152.5,119.8 155.0,117.4 156.7,116.7 C158.4,116.0 158.9,116.6 160.0,116.7 C161.1,116.8 161.9,117.5 163.3,117.5 C164.7,117.5 166.6,115.7 168.3,116.7 C170.0,117.7 171.4,120.5 173.3,123.3 C175.2,126.1 177.9,130.1 180.0,133.3 C182.1,136.5 183.6,139.7 185.8,142.5 C188.0,145.3 190.4,147.2 193.3,150.0 C196.2,152.8 200.7,156.1 203.3,159.2 C206.0,162.2 207.2,165.5 209.2,168.3 C211.1,171.1 212.9,173.9 215.0,175.8 C217.1,177.8 219.2,178.9 221.7,180.0 C224.2,181.1 227.8,181.7 230.0,182.5 C232.2,183.3 233.1,183.1 235.0,185.0 C236.9,186.9 239.2,191.8 241.7,194.2 C244.2,196.6 247.5,197.5 250.0,199.2 C252.5,200.9 254.5,202.3 256.7,204.2 C258.9,206.1 260.8,210.0 263.3,210.8 C265.8,211.6 269.2,210.7 271.7,209.2 C274.2,207.7 275.8,204.1 278.3,201.7 C280.8,199.3 283.6,197.2 286.7,195.0 C289.8,192.8 293.4,190.0 296.7,188.3 C300.0,186.6 304.2,185.7 306.7,185.0 C309.2,184.3 309.8,184.1 311.7,184.2 C313.6,184.3 315.8,185.4 318.3,185.8 C320.8,186.2 324.2,186.1 326.7,186.7 C329.2,187.3 331.6,188.6 333.3,189.2 C335.0,189.8 335.0,190.7 336.7,190.0 C338.4,189.3 340.5,186.5 343.3,185.0 C346.1,183.5 350.9,180.8 353.3,180.8 C355.7,180.8 356.1,183.5 357.5,185.0 C358.9,186.5 360.3,188.8 361.7,190.0 C363.1,191.2 364.6,192.1 365.8,192.5 C367.1,192.9 368.1,193.2 369.2,192.3 C370.3,191.4 371.2,189.6 372.5,187.0 C373.8,184.4 374.9,180.2 376.7,177.0 C378.5,173.8 380.5,170.9 383.3,168.0 C386.1,165.1 390.0,162.2 393.3,159.5 C396.6,156.8 400.8,153.6 403.3,151.7 C405.8,149.8 406.4,149.6 408.3,148.3 C410.2,147.1 412.8,146.4 415.0,144.2 C417.2,142.0 419.5,138.1 421.7,135.0 C423.9,131.9 426.1,128.4 428.3,125.8 C430.5,123.2 432.8,121.0 435.0,119.2 C437.2,117.4 439.5,115.7 441.7,115.0 C443.9,114.3 446.4,115.0 448.3,115.0 C450.2,115.0 451.6,114.7 453.3,115.0 C455.0,115.3 456.6,116.0 458.3,116.7 C460.0,117.4 461.6,118.7 463.3,119.2 C465.0,119.8 466.6,119.0 468.3,120.0 C470.0,121.0 471.6,122.4 473.3,125.0 C475.0,127.6 476.1,131.6 478.3,135.8 C480.5,140.0 484.2,146.0 486.7,150.0 C489.2,154.0 491.4,156.9 493.3,160.0 C495.2,163.1 496.6,166.1 498.3,168.3 C500.0,170.5 501.8,171.4 503.3,173.3 C504.8,175.2 505.8,177.8 507.5,180.0 C509.2,182.2 510.9,184.3 513.3,186.7 C515.7,189.1 518.9,192.3 521.7,194.2 C524.5,196.1 527.2,197.3 530.0,198.3 C532.8,199.3 535.5,199.8 538.3,200.0 C541.1,200.2 544.2,198.9 546.7,199.2 C549.2,199.5 551.2,200.7 553.3,201.7 C555.4,202.7 558.2,204.4 559.2,205.0" fill="none" stroke="#1a2a7c" stroke-width="2.1" stroke-linejoin="round" stroke-linecap="round"/>
<line x1="5.3" y1="259.7" x2="126" y2="210" stroke="#9c27b0" stroke-width="2" stroke-linecap="round"/>
<polyline points="5.0,326.3 8.7,294.7 13.3,315.5 16.7,315.5 20.8,329.7 24.7,343.3 27.5,342.0 31.7,343.3 35.8,336.7 39.5,335.0 41.7,357.5 44.7,369.2 50.0,368.3 53.0,369.2 55.8,375.0 61.7,366.3 64.2,368.3 67.2,369.2 72.5,341.0 75.8,342.5 78.3,341.7 82.5,331.0 89.7,314.7 95.2,339.0 98.5,331.0 100.8,313.0 104.2,309.7 106.7,302.2 109.2,315.5 111.7,315.5 115.0,322.2 117.5,317.2 120.8,320.5 123.8,318.0 126.7,331.3 130.0,337.2 134.2,335.5 137.5,338.0 140.0,329.7 143.3,347.2 146.7,342.2 149.7,345.5 151.7,344.7 154.2,333.8 158.3,343.0 162.5,352.0 165.4,341.3 169.2,351.7 173.3,365.0 176.7,370.0 179.2,369.2 185.0,373.3 188.0,362.5 195.0,365.8 199.2,370.0 202.0,364.2 205.0,367.5 208.3,378.3 211.3,375.0 215.0,375.8 218.7,365.0 221.7,365.8 224.7,360.0 230.0,360.8 232.5,365.0 235.8,378.3 240.8,379.2 244.2,366.3 246.7,370.8 250.0,371.3 253.0,376.3 255.3,375.3 263.3,380.0 266.7,345.5 269.2,357.5 274.2,347.5 278.0,335.0 280.8,334.2 283.3,331.7 286.3,329.7 289.2,346.3 292.5,335.8 294.2,335.5 298.3,340.0 304.2,343.7 310.8,343.7 314.7,358.3 317.5,354.2 320.8,356.7 325.8,352.5 328.3,354.2 331.3,365.8 334.2,368.3 338.3,340.8 342.5,331.2 346.7,339.2 350.0,341.0 353.3,344.2 356.7,374.2 359.2,375.8 361.7,376.7 365.0,359.2 368.0,350.8 370.8,332.2 373.3,324.7 376.3,320.5 380.0,325.5 387.5,337.2 390.0,333.0 393.0,338.8 395.8,328.8 398.7,331.0 401.3,325.5 407.5,338.0 409.7,334.7 414.2,336.3 418.0,313.8 421.3,314.7 424.2,327.2 426.7,328.0 429.7,323.8 433.0,330.5 435.8,332.2 441.7,340.5 443.3,342.2 446.3,351.3 451.7,341.3 454.2,355.0 457.5,355.0 462.5,358.3 468.3,351.7 471.7,378.3 474.2,380.8 477.0,389.2 480.0,380.8 483.3,384.2 488.3,382.5 491.3,388.3 494.2,376.7 497.0,384.2 499.7,371.3 502.5,372.5 505.8,380.0 508.3,377.5 510.8,382.5 514.2,373.3 516.7,372.5 521.7,365.8 525.0,373.0 528.3,367.5 531.7,365.0 536.3,366.7 538.3,355.0 541.7,354.7 544.7,352.5 547.5,358.0 550.0,359.7 555.0,368.3 559.2,377.3" fill="none" stroke="#7b5fc0" stroke-width="1.15" stroke-linejoin="round"/>
<line x1="5.3" y1="276.8" x2="621" y2="276.8" stroke="#1f1fbf" stroke-width="2.2" stroke-dasharray="7.5,8.94"/>
<line x1="177" y1="241.5" x2="621" y2="241.5" stroke="#1f1fbf" stroke-width="2.2" stroke-dasharray="7.5,8.94"/>
<rect x="607.3" y="166" width="36.5" height="8.199999999999989" fill="#e8413c"/>
<text x="608.6" y="172.5" font-size="6.3" fill="#fff" font-weight="bold" textLength="11" lengthAdjust="spacingAndGlyphs">MA</text><text x="626.8" y="172.5" font-size="6.4" fill="#fff" font-weight="bold" textLength="14.2" lengthAdjust="spacingAndGlyphs">1.542</text>
<rect x="603.8" y="201.1" width="40.200000000000045" height="8.099999999999994" fill="#1f3a8f"/>
<text x="606.2" y="207.6" font-size="6.3" fill="#fff" font-weight="bold" textLength="13.4" lengthAdjust="spacingAndGlyphs">EMA</text><text x="626.9" y="207.6" font-size="6.4" fill="#fff" font-weight="bold" textLength="14" lengthAdjust="spacingAndGlyphs">1.444</text>
<rect x="591" y="223.8" width="29.200000000000045" height="8.199999999999989" fill="#ef5a55"/>
<rect x="621.4" y="223.8" width="31.100000000000023" height="14.799999999999983" fill="#ef5a55"/>
<text x="593.4" y="230.5" font-size="6.3" fill="#fff" font-weight="bold" textLength="23.1" lengthAdjust="spacingAndGlyphs">EOSUSDT</text><text x="627" y="230.5" font-size="6.4" fill="#fff" font-weight="bold" textLength="14" lengthAdjust="spacingAndGlyphs">1.380</text><text x="626.3" y="237.2" font-size="6.2" fill="#fff" textLength="22.5" lengthAdjust="spacingAndGlyphs">02:53:53</text>
<rect x="621.2" y="238.9" width="22.799999999999955" height="8.0" fill="#1010e0"/>
<text x="627" y="245.2" font-size="6.4" fill="#fff" font-weight="bold" textLength="14" lengthAdjust="spacingAndGlyphs">1.340</text>
<rect x="621.2" y="273.1" width="22.799999999999955" height="7.7999999999999545" fill="#1010e0"/>
<text x="627" y="279.3" font-size="6.4" fill="#fff" font-weight="bold" textLength="14" lengthAdjust="spacingAndGlyphs">1.240</text>
<rect x="606.7" y="373.8" width="36.89999999999998" height="7.599999999999966" fill="#7e57c2"/>
<text x="609.2" y="379.9" font-size="6.3" fill="#fff" font-weight="bold" textLength="9.5" lengthAdjust="spacingAndGlyphs">RSI</text><text x="626.8" y="379.9" font-size="6.4" fill="#fff" font-weight="bold" textLength="14.2" lengthAdjust="spacingAndGlyphs">35.56</text>
<g fill="#131722"><path d="M5,415.7 H9.7 V420.3 H7.1 V417.3 H5 Z"/><circle cx="11" cy="416.6" r="0.95"/><path d="M12.4,415.7 H14.6 L12.3,420.3 H10.1 Z"/></g>
<text x="16.4" y="420.2" font-size="5.9" fill="#4a4a4a" textLength="35" lengthAdjust="spacingAndGlyphs">TradingView</text>
</svg></body></html>
